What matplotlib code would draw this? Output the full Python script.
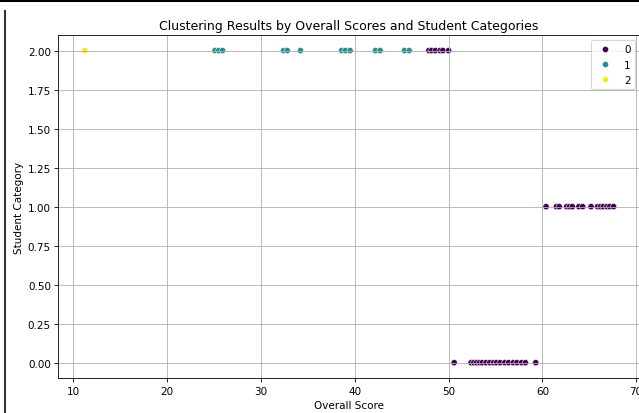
import numpy as np
import pandas as pd
import seaborn as sns
import matplotlib
matplotlib.use("Agg")
import matplotlib.pyplot as plt
from matplotlib.lines import Line2D

# overall scores per (cluster, student category) group
cluster2_cat2 = [11.2]
cluster1_cat2 = [25.1, 25.5, 25.9, 32.4, 32.8, 34.2, 38.6, 39.0, 39.5,
                 42.2, 42.7, 45.3, 45.8]
cluster0_cat2 = [47.9, 48.2, 48.6, 49.1, 49.4, 50.0]
cluster0_cat1 = [60.4, 61.5, 61.8, 62.6, 62.9, 63.2, 63.9, 64.3, 65.2,
                 65.9, 66.2, 66.5, 66.9, 67.2, 67.6]
cluster0_cat0 = [50.6, 52.4, 52.7, 53.0, 53.3, 53.6, 54.0, 54.4, 54.8,
                 55.1, 55.5, 56.0, 56.4, 56.9, 57.3, 57.8, 58.2, 59.3]

groups = [
    (cluster2_cat2, 2, 2),
    (cluster1_cat2, 2, 1),
    (cluster0_cat2, 2, 0),
    (cluster0_cat1, 1, 0),
    (cluster0_cat0, 0, 0),
]

rows = []
for scores, cat, cl in groups:
    for s in scores:
        rows.append({'Overall Score': s, 'Student Category': cat, 'Cluster': cl})
df = pd.DataFrame(rows)

# screenshot is a 75% scaled render, so draw at 75 dpi
fig = plt.figure(figsize=(639 / 75, 414 / 75), dpi=75)
ax = fig.add_axes([0.0912, 0.0838, 0.9104, 0.8293])

sns.scatterplot(data=df, x='Overall Score', y='Student Category', hue='Cluster',
                palette='viridis', ax=ax)
ax.set_title('Clustering Results by Overall Scores and Student Categories')
ax.set_xlabel('Overall Score')
ax.set_ylabel('Student Category')
ax.legend(loc='upper right')
ax.grid(True)

# notebook frame edges visible in the screenshot
fig.add_artist(Line2D([0, 1], [1 - 2 / 414, 1 - 2 / 414], color='black', lw=2,
                      transform=fig.transFigure))
fig.add_artist(Line2D([5 / 639, 5 / 639], [0, 1 - 12 / 414], color='#333333', lw=2,
                      transform=fig.transFigure))

fig.savefig('out.png', dpi=75)
